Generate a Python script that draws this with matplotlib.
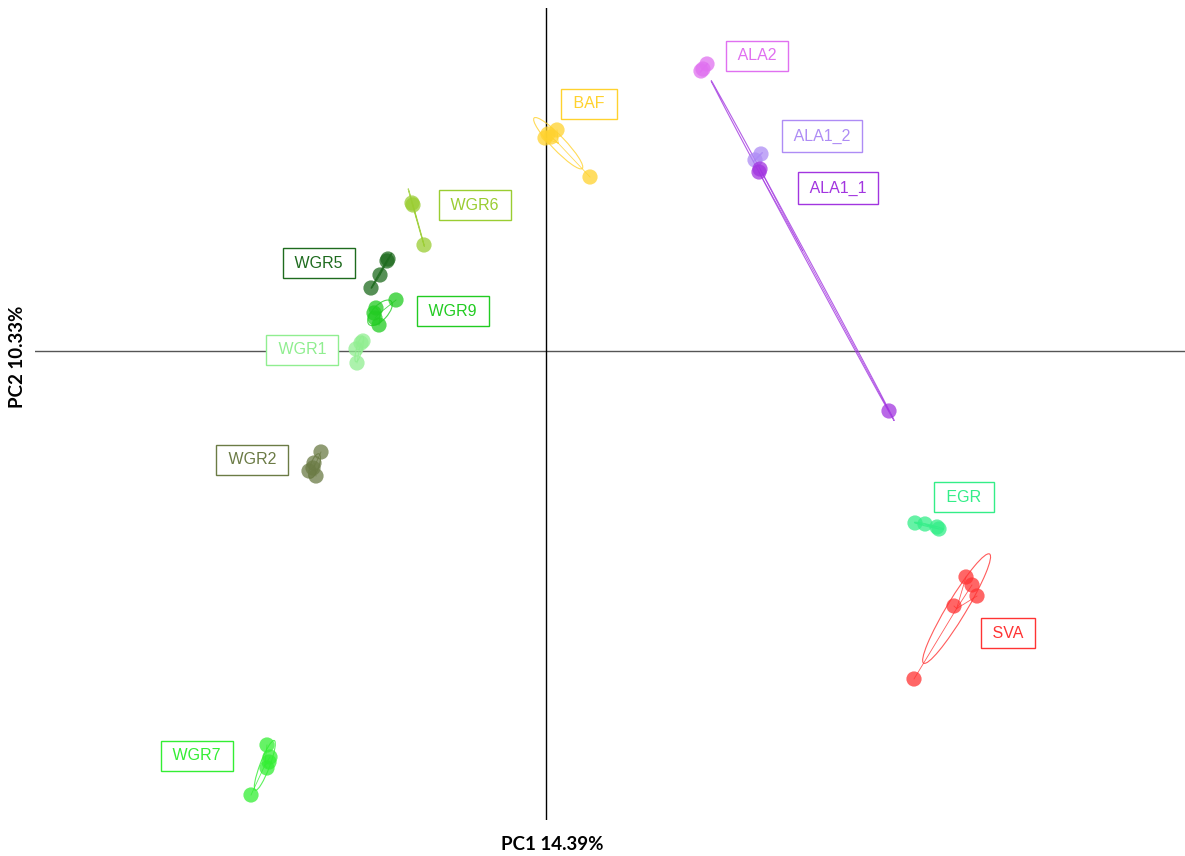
import matplotlib.pyplot as plt
import numpy as np
from matplotlib.patches import Ellipse

# PCA scores per population (PC1, PC2)
groups = ['ALA2', 'ALA1_2', 'ALA1_1', 'BAF', 'WGR6', 'WGR5', 'WGR9',
          'WGR1', 'WGR2', 'WGR7', 'EGR', 'SVA']
pc1 = {
    'ALA2':   [1.57, 1.61, 1.55],
    'ALA1_2': [2.09, 2.15],
    'ALA1_1': [2.13, 2.14, 3.43],
    'BAF':    [-0.01, 0.05, 0.11, 0.02, 0.44],
    'WGR6':   [-1.34, -1.33, -1.22],
    'WGR5':   [-1.59, -1.66, -1.75, -1.58],
    'WGR9':   [-1.50, -1.70, -1.72, -1.67, -1.71],
    'WGR1':   [-1.83, -1.90, -1.89, -1.85],
    'WGR2':   [-2.25, -2.32, -2.37, -2.30, -2.33],
    'WGR7':   [-2.79, -2.76, -2.77, -2.79, -2.95],
    'EGR':    [3.69, 3.79, 3.91, 3.93],
    'SVA':    [4.20, 4.26, 4.31, 4.08, 3.68],
}
pc2 = {
    'ALA2':   [2.82, 2.87, 2.80],
    'ALA1_2': [1.91, 1.97],
    'ALA1_1': [1.79, 1.82, -0.60],
    'BAF':    [2.13, 2.14, 2.21, 2.17, 1.74],
    'WGR6':   [1.48, 1.46, 1.06],
    'WGR5':   [0.90, 0.76, 0.63, 0.92],
    'WGR9':   [0.51, 0.43, 0.38, 0.26, 0.33],
    'WGR1':   [0.10, 0.02, -0.12, 0.08],
    'WGR2':   [-1.01, -1.12, -1.20, -1.25, -1.17],
    'WGR7':   [-3.94, -4.06, -4.11, -4.17, -4.44],
    'EGR':    [-1.72, -1.73, -1.76, -1.78],
    'SVA':    [-2.26, -2.34, -2.45, -2.55, -3.28],
}
colors = {
    'ALA2': '#E070F0', 'ALA1_2': '#AE8CF5', 'ALA1_1': '#A235E0',
    'BAF': '#FFD22E', 'WGR6': '#9ACD32', 'WGR5': '#1E6B1E',
    'WGR9': '#22CC22', 'WGR1': '#90EE90', 'WGR2': '#6B7B45',
    'WGR7': '#33EE33', 'EGR': '#33EE88', 'SVA': '#FF3333',
}
# where each population name is written
label_xy = {
    'ALA2': (2.11, 2.95), 'ALA1_2': (2.76, 2.15), 'ALA1_1': (2.92, 1.63),
    'BAF': (0.43, 2.47), 'WGR6': (-0.71, 1.46), 'WGR5': (-2.27, 0.88),
    'WGR9': (-0.93, 0.40), 'WGR1': (-2.44, 0.01), 'WGR2': (-2.94, -1.09),
    'WGR7': (-3.49, -4.05), 'EGR': (4.18, -1.46), 'SVA': (4.62, -2.82),
}

fig = plt.figure(figsize=(11.85, 8.56), dpi=100)
ax = fig.add_axes([35/1185, 36/856, 1150/1185, 812/856])
ax.set_xlim(-5.11, 6.39)
ax.set_ylim(-4.69, 3.43)
for s in ax.spines.values():
    s.set_visible(False)
ax.set_xticks([])
ax.set_yticks([])

ax.axhline(0, color='#555555', lw=1, zorder=1)
ax.axvline(0, color='black', lw=1, zorder=1)

for g in groups:
    x = np.array(pc1[g])
    y = np.array(pc2[g])
    c = colors[g]
    cx, cy = x.mean(), y.mean()
    # star: centroid to each individual
    for xi, yi in zip(x, y):
        ax.plot([cx, xi], [cy, yi], color=c, lw=0.6, alpha=0.8, zorder=2)
    # 1.5 sd ellipse
    cov = np.cov(np.vstack([x, y]), bias=True)
    vals, vecs = np.linalg.eigh(cov)
    vals = np.clip(vals, 0, None)
    ang = np.degrees(np.arctan2(vecs[1, 1], vecs[0, 1]))
    w = 2 * 1.5 * np.sqrt(vals[1])
    h = 2 * 1.5 * np.sqrt(vals[0])
    ax.add_patch(Ellipse((cx, cy), w, h, angle=ang, fill=False,
                         edgecolor=c, lw=0.8, alpha=0.8, zorder=2))
    ax.scatter(x, y, s=120, color=c, alpha=0.75, edgecolors='none', zorder=3)
    lx, ly = label_xy[g]
    ax.text(lx, ly, ' ' + g + ' ', color=c, fontsize=11.5,
            family='Liberation Sans', ha='center', va='center', zorder=4,
            bbox=dict(boxstyle='square,pad=0.5', facecolor='white',
                      edgecolor=c, lw=1))

fig.text(552/1185, 1 - 845/856, 'PC1 14.39%', fontsize=13.5, fontweight='bold',
         family='Lato', ha='center', va='center')
fig.text(18/1185, 1 - 357/856, 'PC2 10.33%', fontsize=13.5, fontweight='bold',
         family='Lato', ha='center', va='center', rotation=90)

fig.savefig('out.png', dpi=100, facecolor='white')
